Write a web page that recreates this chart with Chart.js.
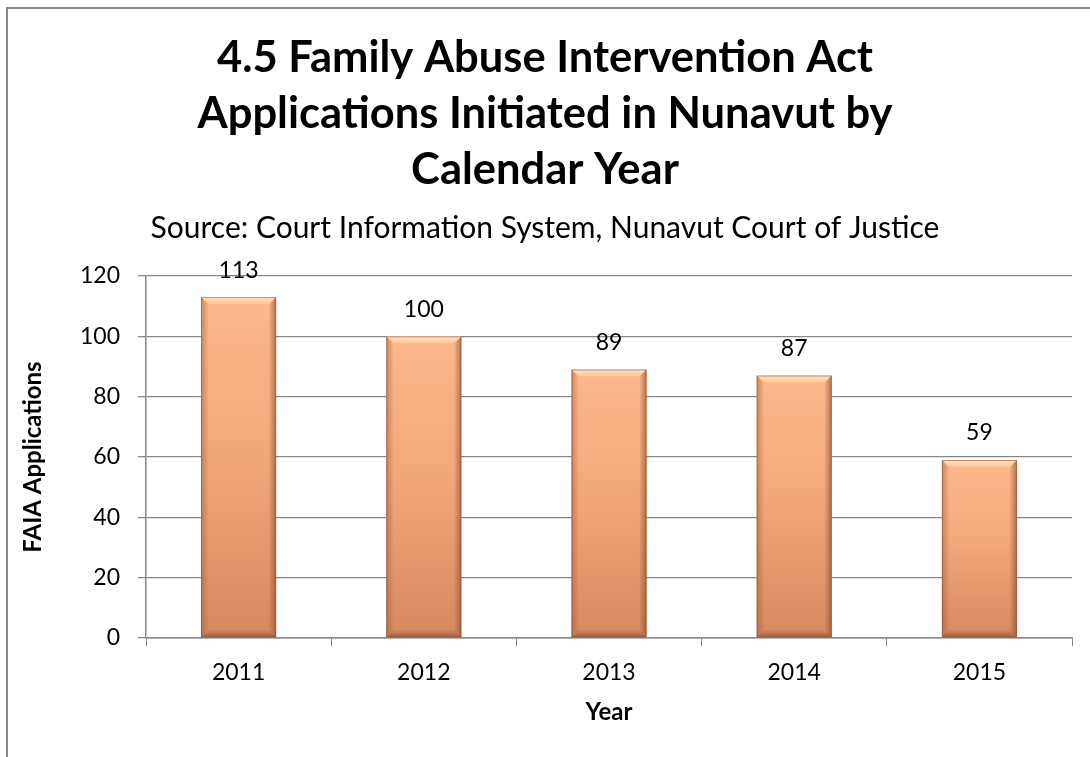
<!DOCTYPE html>
<html>
<head>
<meta charset="utf-8">
<script src="https://cdn.jsdelivr.net/npm/chart.js@4"></script>
<style>
  body { margin: 0; background: #fff; }
  #wrap { position: relative; width: 1090px; height: 757px; }
  #frame { position: absolute; left: 6px; top: 7px; width: 1100px; height: 760px;
           border-left: 2px solid #8a8a8a; border-top: 2px solid #8a8a8a; }
  #chart { position: absolute; left: 0; top: 0; }
</style>
</head>
<body>
<div id="wrap">
  <div id="frame"></div>
  <canvas id="chart" width="1090" height="757"></canvas>
</div>
<script>
const years = ['2011', '2012', '2013', '2014', '2015'];
const applications = [113, 100, 89, 87, 59];
const yTicks = [0, 20, 40, 60, 80, 100, 120];
const titleLines = ['4.5 Family Abuse Intervention Act', 'Applications Initiated in Nunavut by', 'Calendar Year'];
const subtitleText = 'Source: Court Information System, Nunavut Court of Justice';

const FONT = 'Lato, "Open Sans", sans-serif';
const gridGray = '#878787';

// vertical gradient per bar, from the bar top to the base
function barFill(c) {
  const chart = c.chart;
  if (!chart.chartArea) return '#f0a57a';
  const ys = chart.scales.y;
  const top = ys.getPixelForValue(applications[c.dataIndex]);
  const bot = ys.getPixelForValue(0);
  const g = chart.ctx.createLinearGradient(0, top, 0, bot);
  g.addColorStop(0, '#fdb88b');
  g.addColorStop(0.4, '#f5aa7c');
  g.addColorStop(1, '#d7895f');
  return g;
}

// bevel edges + value labels
const bevelPlugin = {
  id: 'bevel',
  afterDatasetsDraw(chart) {
    const ctx = chart.ctx;
    const meta = chart.getDatasetMeta(0);
    const b = 7;
    meta.data.forEach((bar, i) => {
      const l = bar.x - bar.width / 2, r = bar.x + bar.width / 2;
      const t = bar.y, btm = bar.base;
      ctx.save();
      // top highlight
      let g = ctx.createLinearGradient(0, t, 0, t + b);
      g.addColorStop(0, 'rgba(255,232,200,0.95)');
      g.addColorStop(1, 'rgba(255,220,180,0.35)');
      ctx.fillStyle = g;
      ctx.beginPath();
      ctx.moveTo(l, t); ctx.lineTo(r, t); ctx.lineTo(r - b, t + b); ctx.lineTo(l + b, t + b); ctx.closePath();
      ctx.fill();
      // left edge
      g = ctx.createLinearGradient(l, 0, l + b, 0);
      g.addColorStop(0, 'rgba(150,80,45,0.45)');
      g.addColorStop(1, 'rgba(150,80,45,0.05)');
      ctx.fillStyle = g;
      ctx.beginPath();
      ctx.moveTo(l, t); ctx.lineTo(l + b, t + b); ctx.lineTo(l + b, btm - b); ctx.lineTo(l, btm); ctx.closePath();
      ctx.fill();
      // right edge
      g = ctx.createLinearGradient(r, 0, r - b, 0);
      g.addColorStop(0, 'rgba(130,70,40,0.6)');
      g.addColorStop(1, 'rgba(130,70,40,0.05)');
      ctx.fillStyle = g;
      ctx.beginPath();
      ctx.moveTo(r, t); ctx.lineTo(r - b, t + b); ctx.lineTo(r - b, btm - b); ctx.lineTo(r, btm); ctx.closePath();
      ctx.fill();
      // bottom edge
      g = ctx.createLinearGradient(0, btm, 0, btm - b);
      g.addColorStop(0, 'rgba(120,60,30,0.55)');
      g.addColorStop(1, 'rgba(120,60,30,0.05)');
      ctx.fillStyle = g;
      ctx.beginPath();
      ctx.moveTo(l, btm); ctx.lineTo(l + b, btm - b); ctx.lineTo(r - b, btm - b); ctx.lineTo(r, btm); ctx.closePath();
      ctx.fill();
      ctx.strokeStyle = 'rgba(140,80,50,0.55)';
      ctx.lineWidth = 1;
      ctx.strokeRect(l + 0.5, t + 0.5, bar.width - 1, btm - t - 1);
      ctx.restore();

      ctx.save();
      ctx.fillStyle = '#000';
      ctx.font = '23px ' + FONT;
      ctx.textAlign = 'center';
      ctx.textBaseline = 'middle';
      ctx.fillText(String(applications[i]), bar.x, bar.y - 27);
      ctx.restore();
    });
  }
};

new Chart(document.getElementById('chart'), {
  type: 'bar',
  data: {
    labels: years,
    datasets: [{
      label: 'FAIA Applications',
      data: applications,
      backgroundColor: barFill,
      borderWidth: 0,
      barPercentage: 0.405,
      categoryPercentage: 1
    }]
  },
  options: {
    responsive: false,
    animation: false,
    layout: { padding: { left: 18, right: 18, top: 0, bottom: 0 } },
    plugins: {
      legend: { display: false },
      tooltip: { enabled: false },
      title: {
        display: true,
        text: titleLines,
        color: '#000',
        font: { family: FONT, size: 43.5, weight: 'bold', lineHeight: 56 / 43.5 },
        padding: { top: 30, bottom: 0 }
      },
      subtitle: {
        display: true,
        text: subtitleText,
        color: '#000',
        font: { family: FONT, size: 30, lineHeight: 1.2 },
        padding: { top: 12, bottom: 30 }
      }
    },
    scales: {
      x: {
        afterFit(s) { s.height = 119; },
        grid: { display: true, drawOnChartArea: false, offset: true, color: gridGray, tickLength: 8 },
        border: { color: gridGray, width: 1.5 },
        ticks: { color: '#000', font: { family: FONT, size: 23 }, padding: 13 },
        title: {
          display: true, text: 'Year', color: '#000',
          font: { family: FONT, size: 24, weight: 'bold', lineHeight: 1.2 },
          padding: { top: 0, bottom: 30 }
        }
      },
      y: {
        min: 0, max: 120,
        afterFit(s) { s.width = 128; },
        afterBuildTicks(s) { s.ticks = yTicks.map(v => ({ value: v })); },
        grid: { color: gridGray, lineWidth: 1.3, tickLength: 8 },
        border: { color: gridGray, width: 1.5 },
        ticks: { color: '#000', font: { family: FONT, size: 23 }, padding: 18 },
        title: {
          display: true, text: 'FAIA Applications', color: '#000',
          font: { family: FONT, size: 24, weight: 'bold', lineHeight: 1.2 },
          padding: { top: 1, bottom: 0 }
        }
      }
    }
  },
  plugins: [bevelPlugin]
});
</script>
</body>
</html>
